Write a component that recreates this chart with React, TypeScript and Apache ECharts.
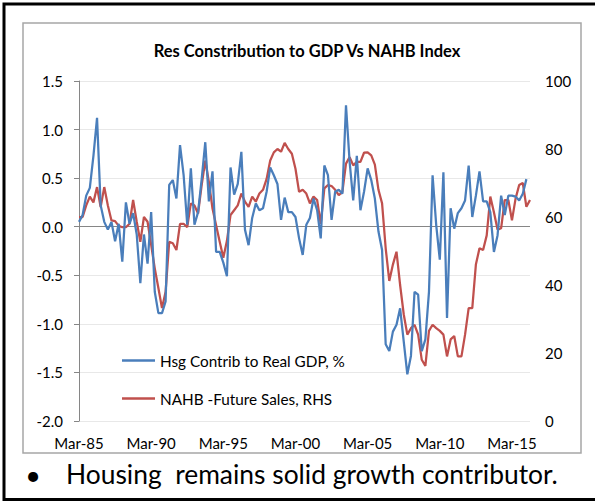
import React, { useEffect, useRef } from "react";
import * as echarts from "echarts";

const QUARTER_MONTHS = ["Mar", "Jun", "Sep", "Dec"];
const START_YEAR = 1985;
const N_QUARTERS = 126;
const categories: string[] = [];
for (let i = 0; i < N_QUARTERS; i++) {
  const y = START_YEAR + Math.floor(i / 4);
  categories.push(`${QUARTER_MONTHS[i % 4]}-${String(y % 100).padStart(2, "0")}`);
}

const hsgContrib = [
  0.05, 0.12, 0.32, 0.4, 0.73, 1.12, 0.22, 0.05, -0.03, 0.05,
  -0.15, 0.03, -0.36, 0.25, 0.03, 0.14, -0.08, -0.58, -0.08, -0.38,
  0.15, -0.67, -0.89, -0.89, -0.77, 0.43, 0.48, 0.29, 0.84, 0.53,
  0.02, 0.6, 0.02, 0.15, 0.49, 0.87, 0.26, 0.57, -0.26, -0.26,
  -0.37, -0.51, 0.61, 0.33, 0.44, 0.77, -0.03, -0.19, 0.09, 0.24,
  0.17, 0.19, 0.36, 0.61, 0.53, 0.44, 0.07, 0.3, 0.15, 0.15,
  0.1, -0.12, -0.29, 0.02, 0.09, 0.29, 0.17, -0.12, 0.63, 0.53,
  0.07, 0.36, 0.38, 0.34, 1.25, 0.67, 0.27, 0.73, 0.17, 0.36,
  0.6, 0.48, 0.29, -0.05, -0.24, -1.21, -1.28, -1.08, -1.01, -0.84,
  -1.18, -1.52, -1.33, -0.67, -0.7, -1.28, -1.16, -0.67, 0.53, 0.02,
  -0.34, 0.56, -0.94, 0.19, -0.02, 0.14, 0.19, 0.27, 0.63, 0.1,
  0.32, 0.57, 0.26, 0.26, 0.15, -0.26, -0.09, 0.32, 0.12, 0.32,
  0.32, 0.31, 0.27, 0.34, 0.49,
];

const nahbFuture = [
  60, 60, 63.4, 66, 64.3, 68.8, 62.9, 68.8, 63.4, 59,
  58.8, 57.4, 57, 57, 58, 65, 58.6, 52.7, 60, 58.6,
  51.8, 44.9, 39.1, 33.2, 38, 52.7, 52.3, 50.3, 58, 58,
  57, 64, 63.4, 61, 69.4, 76.6, 70.3, 62.5, 57.6, 52.7,
  48, 53, 60.6, 62, 63.4, 66.9, 64.5, 63, 66, 64.5,
  66.9, 68, 71.2, 76.6, 79, 80, 79.2, 81.8, 80, 78.6,
  74.2, 67.4, 68, 66.9, 64, 66, 65, 58, 68.4, 69.4,
  69.1, 68, 66.4, 67.4, 75.7, 77.6, 75.2, 76.2, 76.2, 78.9,
  79, 78.1, 75.4, 68, 64, 50.8, 41.2, 46, 49.8, 40,
  31.4, 25.4, 27.3, 28.3, 25.4, 18, 16.2, 26.5, 28.3, 27.3,
  26.5, 25.4, 19, 24, 25, 19, 19, 25.4, 33.2, 33.2,
  46, 50.8, 50.3, 54.6, 66, 61.4, 56.3, 56.7, 65, 65,
  59, 65.4, 69.4, 70, 63, 65,
];

const leftTicks = { min: -2, max: 1.5, interval: 0.5 };
const rightTicks = { min: 0, max: 100, interval: 20 };

const TITLE = "Res Constribution to GDP Vs NAHB Index";
const SERIES_NAMES = ["Hsg Contrib to Real GDP, %", "NAHB -Future Sales, RHS"];
const BULLET_TEXT = "Housing  remains solid growth contributor.";

const FONT = "Lato, 'Open Sans', sans-serif";
const BLUE = "#4a7ebb";
const RED = "#c0504d";

export default function App() {
  const ref = useRef<HTMLDivElement>(null);
  useEffect(() => {
    if (!ref.current) return;
    const chart = echarts.init(ref.current, null, { renderer: "svg" });
    const grid = "#e8e8e8";
    const splitColors = [grid, grid, grid, grid, "#868686", grid, grid, grid];
    chart.setOption({
      animation: false,
      backgroundColor: "#ffffff",
      textStyle: { fontFamily: FONT },
      title: {
        text: TITLE,
        left: 302,
        textAlign: "center",
        top: 37,
        textStyle: { fontSize: 16.5, fontWeight: "bold", color: "#000", fontFamily: FONT },
      },
      grid: { left: 79, top: 81, width: 451, height: 340 },
      legend: {
        orient: "vertical",
        left: 117,
        top: 348,
        itemGap: 23,
        itemWidth: 33,
        itemHeight: 2.5,
        icon: "rect",
        textStyle: { fontSize: 15.3, color: "#000", fontFamily: FONT },
        data: SERIES_NAMES,
      },
      xAxis: {
        type: "category",
        data: categories,
        boundaryGap: false,
        axisLine: { show: false, onZero: false },
        axisTick: { show: false },
        axisLabel: { interval: 19, margin: 14, fontSize: 15, color: "#000", fontFamily: FONT },
        splitLine: { show: false },
      },
      yAxis: [
        {
          type: "value",
          min: leftTicks.min,
          max: leftTicks.max,
          interval: leftTicks.interval,
          axisLine: { show: true, lineStyle: { color: "#868686", width: 1 } },
          axisTick: { show: true, length: 5, lineStyle: { color: "#868686" } },
          axisLabel: {
            margin: 16,
            fontSize: 15,
            color: "#000",
            fontFamily: FONT,
            formatter: (v: number) => v.toFixed(1),
          },
          splitLine: { show: true, lineStyle: { color: splitColors, width: 1 } },
        },
        {
          type: "value",
          min: rightTicks.min,
          max: rightTicks.max,
          interval: rightTicks.interval,
          axisLine: { show: false },
          axisTick: { show: false },
          axisLabel: { margin: 15, fontSize: 15, color: "#000", fontFamily: FONT },
          splitLine: { show: false },
        },
      ],
      series: [
        {
          name: SERIES_NAMES[0],
          type: "line",
          yAxisIndex: 0,
          data: hsgContrib,
          symbol: "none",
          lineStyle: { color: BLUE, width: 2.25 },
          itemStyle: { color: BLUE },
          z: 3,
        },
        {
          name: SERIES_NAMES[1],
          type: "line",
          yAxisIndex: 1,
          data: nahbFuture,
          symbol: "none",
          lineStyle: { color: RED, width: 2.25 },
          itemStyle: { color: RED },
          z: 2,
        },
      ],
      graphic: [
        {
          type: "rect",
          shape: { x: 23, y: 23, width: 558, height: 430 },
          style: { fill: "none", stroke: "#a6a6a6", lineWidth: 1.5 },
          silent: true,
        },
        {
          type: "rect",
          shape: { x: 4, y: 4, width: 700, height: 495.5 },
          style: { fill: "none", stroke: "#000", lineWidth: 3 },
          silent: true,
        },
        {
          type: "text",
          x: 33,
          y: 474,
          style: {
            text: "•",
            fontSize: 27,
            fill: "#000",
            fontFamily: FONT,
            textAlign: "center",
            textVerticalAlign: "middle",
          },
        },
        {
          type: "text",
          x: 66,
          y: 474,
          style: {
            text: BULLET_TEXT,
            fontSize: 26.4,
            fill: "#000",
            fontFamily: FONT,
            textAlign: "left",
            textVerticalAlign: "middle",
          },
        },
      ],
    });
    return () => chart.dispose();
  }, []);
  return (
    <div style={{ position: "fixed", left: 0, top: 0, width: 595, height: 502, background: "#fff" }}>
      <div ref={ref} style={{ width: 595, height: 502 }} />
    </div>
  );
}
